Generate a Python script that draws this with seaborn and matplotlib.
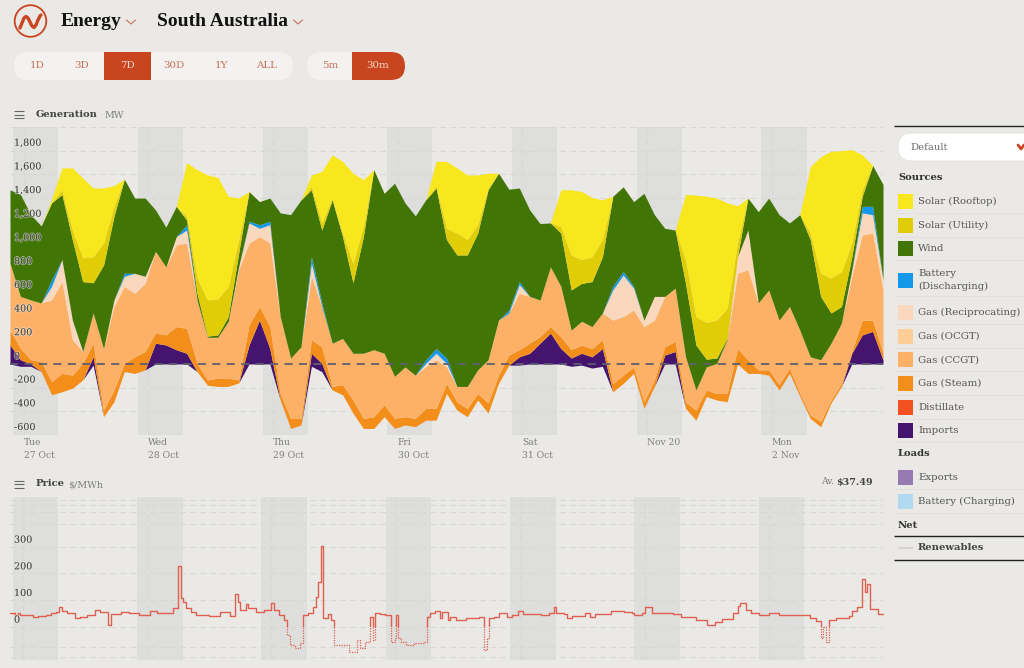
import numpy as np
import matplotlib
matplotlib.use("Agg")
import matplotlib.pyplot as plt
import matplotlib.patheffects as pe
from matplotlib.patches import Circle, FancyBboxPatch, Rectangle
import seaborn as sns

# stack edges in MW, one value every 2 hours
floor_mw = [0,-20,-20,-65,-260,-235,-205,-135,-10,-445,
    -320,-65,-80,-50,0,0,0,0,-65,-180,
    -190,-190,-160,0,0,0,-305,-545,-515,-20,
    -65,-220,-260,-415,-545,-545,-445,-545,-515,-530,
    -475,-475,-250,-390,-445,-305,-415,-165,-10,-10,
    0,0,0,0,-20,-10,-35,-20,-235,-165,
    -80,-375,-190,0,0,-375,-475,-275,-305,-320,
    0,-80,-80,-95,-220,-80,-275,-460,-530,-330,
    -190,0,0,0,0]
imports_top = [160,35,0,-65,-260,-235,-205,-135,60,-445,
    -320,-65,-80,-50,175,160,120,90,-65,-180,
    -190,-190,-160,160,370,130,-305,-545,-515,90,
    5,-220,-260,-415,-545,-545,-445,-545,-515,-530,
    -475,-475,-250,-390,-445,-305,-415,-165,-10,60,
    90,175,260,130,50,90,60,130,-235,-165,
    -80,-375,-190,75,105,-375,-475,-275,-305,-320,
    0,-80,-80,-95,-220,-80,-275,-460,-530,-330,
    -190,90,245,275,35]
steam_top = [285,130,35,20,-150,-80,-95,5,175,-390,
    -220,5,60,105,260,245,315,300,5,-135,
    -120,-120,-135,330,485,315,-250,-460,-460,205,
    145,-190,-175,-305,-460,-445,-345,-460,-445,-460,
    -375,-375,-165,-320,-375,-250,-330,-95,75,120,
    175,230,315,230,120,160,130,205,-165,-95,
    -25,-320,-135,145,190,-320,-390,-220,-250,-250,
    130,35,-50,-50,-175,-35,-250,-430,-485,-305,
    -165,105,370,370,90]
ccgt_top = [850,570,540,515,540,695,205,105,430,130,
    485,655,595,680,950,820,1005,1020,540,225,
    225,360,795,1020,1075,1020,400,50,145,740,
    485,175,215,90,90,120,90,-105,-25,-95,
    -25,35,-25,-190,-190,-50,35,370,430,595,
    570,540,820,655,285,360,315,430,370,400,
    455,315,370,570,640,60,-220,-25,5,205,
    765,795,515,625,370,485,285,60,35,175,
    345,740,1090,1105,625]
recip_top = [850,570,540,515,655,880,370,105,430,130,
    540,740,765,740,950,820,1075,1130,540,225,
    225,360,820,1190,1145,1175,400,50,145,850,
    485,175,215,90,90,120,90,-105,-25,-95,
    5,90,5,-190,-190,-50,35,370,430,670,
    570,540,820,655,285,360,315,430,625,750,
    640,370,570,570,640,60,-220,-25,5,205,
    905,1130,515,625,370,485,285,60,35,175,
    345,795,1275,1260,710]
battery_top = [850,570,540,515,710,880,370,105,430,130,
    540,765,765,740,950,820,1075,1175,540,225,
    225,360,820,1205,1175,1205,400,50,145,905,
    515,175,215,90,90,120,90,-105,-25,-95,
    35,130,50,-190,-190,-50,35,370,455,695,
    570,540,820,655,285,360,315,430,655,780,
    655,370,570,570,640,60,-220,-25,5,205,
    905,1130,515,625,370,485,285,60,35,175,
    345,795,1330,1330,710]
wind_top = [1470,1430,1260,1165,1360,1430,1050,695,685,835,
    1245,1560,1400,1400,1300,1155,1330,1215,595,235,
    245,400,935,1455,1370,1400,1275,1260,1385,1470,
    1130,1385,1075,685,1075,1640,1440,1525,1360,1250,
    1385,1485,1050,920,920,1105,1470,1610,1475,1485,
    1300,1185,1190,1105,625,680,695,905,1415,1495,
    1370,1440,1260,1145,1130,680,160,40,50,215,
    905,1400,1285,1400,1260,1190,1260,1050,570,430,
    485,905,1415,1675,1515]
utility_top = [1470,1430,1260,1165,1360,1470,1130,895,905,1020,
    1330,1560,1400,1400,1300,1155,1330,1245,725,540,
    550,655,1050,1455,1370,1400,1275,1260,1385,1500,
    1190,1400,1105,850,1160,1640,1440,1525,1360,1250,
    1385,1500,1145,1105,1050,1175,1485,1610,1475,1485,
    1300,1185,1190,1160,920,880,905,1050,1415,1495,
    1370,1440,1260,1145,1130,880,400,350,370,470,
    1020,1400,1285,1400,1260,1190,1260,1105,765,725,
    780,1020,1470,1675,1515]
rooftop_top = [1470,1430,1260,1165,1390,1655,1655,1570,1485,1485,
    1505,1560,1400,1400,1300,1155,1330,1700,1640,1595,
    1575,1415,1400,1455,1370,1400,1275,1260,1385,1595,
    1625,1765,1710,1610,1555,1640,1440,1525,1360,1250,
    1385,1710,1710,1655,1595,1595,1610,1610,1475,1485,
    1300,1185,1190,1470,1470,1455,1405,1385,1415,1495,
    1370,1440,1260,1145,1130,1430,1425,1415,1400,1360,
    1335,1400,1285,1400,1260,1190,1260,1665,1750,1795,
    1800,1810,1765,1675,1515]

# price steps, hour the step starts and $/MWh
price_hours = [-2.4,-1.5,-1,-0.5,0.5,2,3,4.5,5.5,6.5,7,7.5,8.5,10,11,12.5,14,15,16.5,17,
    19,20.5,22.5,24.5,26,28,29,30,30.5,31,31.5,32.5,33.5,36,38,40,41,41.5,42,43,
    43.5,45,46.5,48,48.5,49.5,50.5,51,51.5,52.5,53.5,54,55,56,56.5,57,57.5,58,59,59.5,
    60,62,63,64,64.5,65,66,67,67.5,68,69,70,71,71.8,72,72.5,73,74,75.5,77.5,
    78,78.5,79.5,80.5,81,82,82.5,83.7,85.5,88,89,89.5,90,91,92,93.5,94.5,95.5,96.5,100,
    101.5,102.5,103,104.5,105,106,107,108.5,109.5,110.5,113.5,116,117.5,118,119.5,120,121.5,125.5,127,130,
    132,133.5,135,137,138,138.5,139.5,140.5,142,144,146,150.5,152,153,154,154.5,155,155.5,157,159.5,
    160,161,162,162.5,163,163.5,165,166]
price_values = [50,43,53,44,45,35,41,43,53,56,73,58,50,31,38,45,63,56,5,48,
    56,50,43,58,50,50,69,229,109,94,69,56,45,41,56,40,123,94,63,85,
    69,56,63,88,63,44,25,-31,-69,-79,-62,44,50,75,113,169,303,34,46,25,
    -69,-69,-94,-94,-50,-81,-56,35,-50,50,48,44,-56,-44,44,-44,-56,-69,-60,-56,
    38,50,60,31,56,25,38,25,31,35,-88,-44,31,38,50,38,44,60,48,44,
    53,73,53,48,31,40,41,50,38,48,59,56,53,44,50,73,50,48,35,25,
    6,16,29,50,78,90,63,53,44,50,44,44,31,22,-41,0,-59,25,31,40,
    60,75,179,131,160,65,48,48]

day_ticks = [0, 24, 48, 72, 96, 120, 144]
day_labels = ["Tue\n27 Oct", "Wed\n28 Oct", "Thu\n29 Oct", "Fri\n30 Oct",
              "Sat\n31 Oct", "Nov 20", "Mon\n2 Nov"]
gen_ticks = [-600, -400, -200, 0, 200, 400, 600, 800, 1000, 1200, 1400, 1600, 1800]
price_ticks = [0, 100, 200, 300]
price_grid = [-112, -75, 0, 100, 200, 300, 385, 431, 456, 475]

sources = ["Solar (Rooftop)", "Solar (Utility)", "Wind", "Battery\n(Discharging)",
           "Gas (Reciprocating)", "Gas (OCGT)", "Gas (CCGT)", "Gas (Steam)", "Distillate", "Imports"]
source_colors = ["#f8e71c", "#e0cd08", "#417505", "#1498eb",
                 "#f9d8bd", "#ffcd96", "#fdb166", "#f48e1b", "#f35020", "#44146f"]
loads = ["Exports", "Battery (Charging)"]
load_colors = ["#977ab1", "#b1daf1"]

BG = "#eae9e6"
RED = "#c8451f"
SOFT = "#c9705a"
INK = "#444444"
GREY = "#7d7d7b"
GRID = "#d7d7d5"

sns.set_theme(style="white", rc={"figure.facecolor": BG, "axes.facecolor": BG, "savefig.facecolor": BG})
plt.rcParams["font.family"] = ["DejaVu Serif"]

W, H = 1024, 668
fig = plt.figure(figsize=(W / 100, H / 100), dpi=100)


def panel(left, top, right, bottom):
    a = fig.add_axes([left / W, 1 - bottom / H, (right - left) / W, (bottom - top) / H])
    a.set_facecolor("none")
    sns.despine(ax=a, left=True, bottom=True, top=True, right=True)
    return a


def night_bands(a, start, end):
    for d in day_ticks:
        a.axvspan(d + start, d + end, color="#dededc", lw=0, zorder=0)
    a.vlines(day_ticks, 0, 1, transform=a.get_xaxis_transform(), color=GRID, lw=0.8, ls=(0, (5, 4)), zorder=1)


def value_labels(a, ticks, lift):
    for v in ticks:
        a.annotate(f"{v:,}", (0, v), xycoords=a.get_yaxis_transform(), xytext=(4, lift),
                   textcoords="offset pixels", fontsize=6.9, color=INK, va="center", ha="left", zorder=8,
                   path_effects=[pe.withStroke(linewidth=1.2, foreground=(0.92, 0.92, 0.9, 0.55))])


# generation panel
hours = np.arange(len(floor_mw)) * 2 - 2.6
ax = panel(10, 127, 883, 435)
night_bands(ax, -2.0, 6.7)
ax.hlines(gen_ticks + [2000], -2.6, 165.4, color=GRID, lw=0.8, ls=(0, (5, 4)), zorder=1)
edges = [floor_mw, imports_top, steam_top, ccgt_top, recip_top, battery_top, wind_top, utility_top, rooftop_top]
layer_colors = ["#44146f", "#f48e1b", "#fdb166", "#f9d8bd", "#1498eb", "#417505", "#e0cd08", "#f8e71c"]
for lo, hi, c in zip(edges[:-1], edges[1:], layer_colors):
    ax.fill_between(hours, lo, hi, color=c, lw=0, zorder=2)
ax.axhline(0, color="#5f5f70", lw=1.3, ls=(0, (4.5, 3.5)), zorder=5)
ax.set_xlim(-2.6, 165.4)
ax.set_ylim(-600, 2000)
ax.set_yticks([])
ax.set_xticks(day_ticks)
ax.set_xticklabels(day_labels, ha="left", fontsize=6.6, color=GREY, linespacing=1.45)
ax.tick_params(axis="x", length=0, pad=2.5)
value_labels(ax, gen_ticks, 7.5)

# price panel
axp = panel(10, 497, 883, 660)
night_bands(axp, -1.95, 6.85)
axp.hlines(price_grid, -2.45, 166, color=GRID, lw=0.8, ls=(0, (5, 4)), zorder=1)
sns.lineplot(x=price_hours, y=price_values, ax=axp, drawstyle="steps-post", color="#e0604f",
             lw=1.0, estimator=None, sort=False, zorder=3)
sns.lineplot(x=price_hours, y=price_values, ax=axp, drawstyle="steps-post", color="#e0604f",
             lw=0.9, ls=(0, (1, 1)), estimator=None, sort=False, zorder=3)
axp.set_xlim(-2.45, 166)
axp.set_ylim(-125, 486)
axp.set_xticks([])
axp.set_yticks([])
axp.set_xlabel("")
axp.set_ylabel("")
axp.lines[-2].set_clip_path(Rectangle((-3, 0), 170, 490, transform=axp.transData))
axp.lines[-1].set_clip_path(Rectangle((-3, -130), 170, 130, transform=axp.transData))
value_labels(axp, price_ticks, 6.5)

# page furniture in pixel coordinates
ui = fig.add_axes([0, 0, 1, 1], zorder=10)
ui.set_xlim(0, W)
ui.set_ylim(H, 0)
ui.axis("off")
ui.patch.set_alpha(0)

ui.add_patch(Circle((30.5, 21), 15.8, fill=False, ec=RED, lw=1.3))
wave_x = [20, 22, 24, 26, 28, 30, 32, 34, 36, 38, 40, 41]
wave_y = [28, 23, 18, 16.5, 18, 22, 26, 27.5, 25, 20, 16, 15]
ui.plot(wave_x, wave_y, color=RED, lw=2.4, solid_capstyle="round")

ui.text(61, 22, "Energy", fontsize=14, fontweight="bold", color="#111111", family="Liberation Serif", va="center")
ui.text(157, 22, "South Australia", fontsize=14, fontweight="bold", color="#111111", family="Liberation Serif", va="center")
for cx in [131, 298]:
    ui.plot([cx - 4.5, cx, cx + 4.5], [20, 24, 20], color=SOFT, lw=0.8)


def pill(x0, x1, c="#f3f2f0", y0=52, y1=80):
    r = (y1 - y0) / 2
    p = FancyBboxPatch((x0, y0), x1 - x0, y1 - y0, boxstyle=f"round,pad=0,rounding_size={r}", fc=c, ec="none")
    ui.add_patch(p)
    return p


pill(14, 293)
ui.add_patch(Rectangle((104, 52), 46.5, 28, fc=RED, ec="none"))
for x, lab in zip([37, 82, 127, 174, 221, 267], ["1D", "3D", "7D", "30D", "1Y", "ALL"]):
    ui.text(x, 66, lab, fontsize=7.4, color="#f3d9cf" if lab == "7D" else SOFT, ha="center", va="center")
pill(307, 405)
active = pill(322, 405, RED)
active.set_clip_path(Rectangle((352, 52), 60, 28, transform=ui.transData))
for x, lab in zip([330, 378], ["5m", "30m"]):
    ui.text(x, 66, lab, fontsize=7.4, color="#f3d9cf" if lab == "30m" else SOFT, ha="center", va="center")

for y0 in [114.5, 484]:
    ui.hlines([y0 - 3.5, y0, y0 + 3.5], 14, 24, color="#666666", lw=0.8)
ui.text(36, 114.5, "Generation", fontsize=7.1, fontweight="bold", color=INK, va="center")
ui.text(105, 116, "MW", fontsize=6.8, color=GREY, va="center")
ui.text(36, 484, "Price", fontsize=7.2, fontweight="bold", color=INK, va="center")
ui.text(68, 485, "$/MWh", fontsize=6.8, color=GREY, va="center")
ui.text(821, 482, "Av.", fontsize=6.6, color=GREY, va="center")
ui.text(836, 482, "$37.49", fontsize=6.9, fontweight="bold", color=INK, va="center")

# legend column
ui.hlines(126, 894, W, color="#222222", lw=1)
ui.add_patch(FancyBboxPatch((898, 133), 150, 28, boxstyle="round,pad=0,rounding_size=14", fc="#ffffff", ec="#e2e1de", lw=0.6))
ui.text(910, 147, "Default", fontsize=7.3, color="#666666", va="center")
ui.plot([1018, 1021, 1024], [145, 149, 145], color=RED, lw=2)


def heading(y, s):
    ui.text(898, y, s, fontsize=7.2, fontweight="bold", color="#333333", va="center")


def row(y, s, c):
    ui.add_patch(Rectangle((898, y - 7.5), 15, 15, fc=c, ec="none"))
    ui.text(918, y, s, fontsize=7.3, color="#555555", va="center", linespacing=1.55)
    ui.hlines(y + 11.7 if "\n" not in s else y + 15.7, 894, W, color="#e0dfdc", lw=0.6)


heading(177, "Sources")
source_y = [201.7, 225, 248.7, 280.3, 312.3, 336, 359.7, 383, 407, 430.7]
for y, s, c in zip(source_y, sources, source_colors):
    row(y, s, c)
heading(454, "Loads")
for y, s, c in zip([477.7, 501.3], loads, load_colors):
    row(y, s, c)
heading(525, "Net")
ui.hlines(536, 894, W, color="#222222", lw=1)
ui.hlines(548, 898, 913, color="#d6d5d2", lw=1.5)
ui.text(918, 548, "Renewables", fontsize=7.2, fontweight="bold", color="#444444", va="center")
ui.hlines(560, 894, W, color="#222222", lw=1)

fig.savefig("out.png", dpi=100)
